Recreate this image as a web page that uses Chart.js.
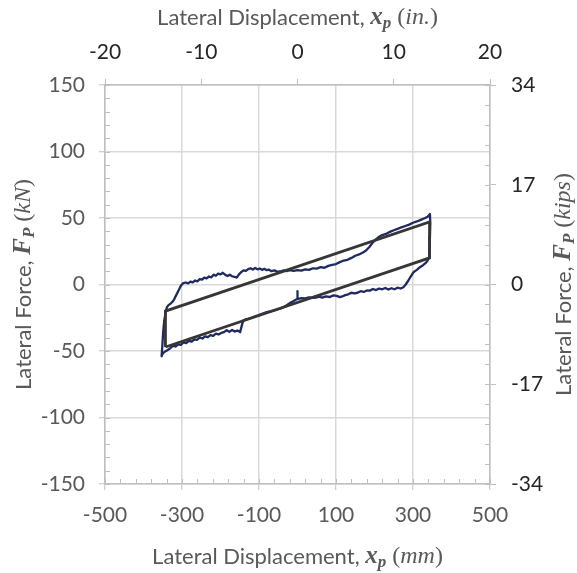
<!DOCTYPE html>
<html><head><meta charset="utf-8">
<script src="https://cdn.jsdelivr.net/npm/chart.js@4"></script>
<style>html,body{margin:0;padding:0;background:#fff}#wrap{width:577px;height:573px}</style>
</head><body><div id="wrap"><canvas id="c" width="577" height="573"></canvas></div>
<script>
// Test record (mm, kN), in path order
const hysX = [0,0,
 -10,-20,-30,-40,-50,-60,-70,-80,-90,-100,-110,-118,-126,-134,-140,-144,-149,-156,-163,-170,-177,-184,-191,-198,-205,-212,-219,-226,-233,-240,-247,-254,-261,-268,-275,-282,-289,-296,-303,-310,-317,-324,-331,-338,-345,-350,-353,
 -351,-349,-346,-342,-339,-335,-328,-322,-315,-308,-303,-297,-290,-284,-278,-272,-266,-260,-254,-248,-242,-236,-230,-224,-218,-212,-206,-200,-194,-188,-182,-176,-170,-164,-158,-152,-146,-140,-134,-128,-122,-116,-110,-104,-98,-92,-86,-80,-74,-68,-60,-52,-44,-36,-28,-20,-10,0,10,20,30,40,50,60,70,80,90,100,110,120,130,140,150,160,170,178,186,194,202,210,220,230,240,250,260,270,280,290,300,310,320,330,338,344,
 345,344,343,342,
 338,334,326,318,310,301,294,288,281,275,268,260,252,244,236,228,220,212,204,196,188,180,172,164,156,148,140,132,124,116,110,102,93,84,74,64,56,48,40,30,20,10,0];
const hysY = [-5,-10.7,
 -12.4,-14,-16,-17.6,-18.6,-19.4,-20.2,-20.8,-21.8,-23,-24,-24.8,-25.6,-26.2,-27,-30,-35.8,-34.6,-35.4,-34.2,-35.6,-34.4,-35.8,-36.4,-37.6,-37,-38.6,-38,-39.6,-39,-40.6,-40,-41.6,-41.2,-43,-42.4,-44,-43.6,-45.4,-45,-46.6,-46.2,-48,-49.4,-50.6,-52,-54,
 -46,-36,-27,-20,-17,-15.5,-14,-12,-8,-4,-1,1,1.5,0.8,2.2,1.6,3,2.4,4,3.6,5.2,4.6,6,5.4,7.4,6.6,8.2,7.6,8.8,7.4,6.4,7.4,6.2,5.8,5.2,7.6,9.4,10.6,10.2,11.6,12.2,11.2,12.4,11.4,12,11,11.8,10.8,11.2,10,10.6,9.6,9.8,10.6,10,10.8,10.2,10.8,10.4,11.4,11,12.2,12,13,12.6,14,14.8,15.4,16.8,18,18.6,20,21.6,22.6,24,25.6,28,31,33.5,35.5,37.2,38,39.6,40.8,41.8,43,44,45,46.4,47.4,48.6,49.8,51,53,
 46,36,27,20.5,
 18,16.5,14.5,13,11,9.2,6,3,0,-2,-3,-2.4,-3.6,-2.8,-3.8,-2.6,-3.6,-3,-4.2,-3.4,-4.6,-4.5,-5.6,-5,-6.2,-6.6,-6.2,-7.4,-8,-9,-9.5,-8.6,-8.2,-9.4,-9,-9.8,-9.2,-9.8,-10,-9.6,-10.4,-10.2,-11];
// Bilinear model loop (mm, kN)
const modelX = [-343,-343,343,343,-343];
const modelY = [-47,-20,47,20,-47];
// Tick labels
const mmTicks = [-500,-300,-100,100,300,500];
const inTicks = [-20,-10,0,10,20];
const kNTicks = [-150,-100,-50,0,50,100,150];
const kipTicks = [-34,-17,0,17,34];

const GRAY='#595959', AXIS='#bfbfbf', GRID='#d9d9d9';
const tickFont={family:'Lato',size:21};

function segsW(ctx,segs){let w=0;for(const s of segs){ctx.font=s.f;w+=ctx.measureText(s.t).width;}return w;}
function drawRich(ctx,segs,cx,cy){
  const w=segsW(ctx,segs);let x=cx-w/2;
  ctx.textBaseline='middle';ctx.textAlign='left';
  for(const s of segs){ctx.font=s.f;ctx.fillStyle=GRAY;ctx.fillText(s.t,x,cy+(s.dy||0));x+=ctx.measureText(s.t).width;}
}
const SANS='22px Lato', SER='"Liberation Serif"';
function dispTitle(unit){return [{t:'Lateral Displacement, ',f:SANS},{t:'x',f:'bold italic 25px '+SER},{t:'p',f:'bold italic 17px '+SER,dy:6},{t:' (',f:'24px '+SER},{t:unit,f:'italic 24px '+SER},{t:')',f:'24px '+SER}];}
function forceTitle(unit){return [{t:'Lateral Force, ',f:SANS},{t:'F',f:'bold italic 25px '+SER},{t:'P',f:'bold italic 17px '+SER,dy:6},{t:' (',f:'24px '+SER},{t:unit,f:'italic 24px '+SER},{t:')',f:'24px '+SER}];}

const titles={id:'titles',afterDraw(chart){
  const ctx=chart.ctx,a=chart.chartArea;const cx=(a.left+a.right)/2,cy=(a.top+a.bottom)/2;
  ctx.save();
  drawRich(ctx,dispTitle('in.'),cx,18);
  drawRich(ctx,dispTitle('mm'),cx,557);
  ctx.save();ctx.translate(24,cy);ctx.rotate(-Math.PI/2);drawRich(ctx,forceTitle('kN'),0,0);ctx.restore();
  ctx.save();ctx.translate(564,cy);ctx.rotate(-Math.PI/2);drawRich(ctx,forceTitle('kips'),0,0);ctx.restore();
  ctx.restore();
}};
const minor={id:'minor',afterDraw(chart){
  const ctx=chart.ctx,a=chart.chartArea,s=chart.scales,L=5;
  ctx.save();ctx.strokeStyle=AXIS;ctx.lineWidth=1;
  const run=(sc,min,max,n,fn)=>{for(let i=0;i<=n;i++){const v=min+(max-min)*i/n;fn(sc.getPixelForValue(v));}};
  run(s.y,-150,150,30,p=>{p=Math.round(p)+0.5;ctx.beginPath();ctx.moveTo(a.left,p);ctx.lineTo(a.left+L,p);ctx.stroke();});
  run(s.y2,-34,34,20,p=>{p=Math.round(p)+0.5;ctx.beginPath();ctx.moveTo(a.right,p);ctx.lineTo(a.right-L,p);ctx.stroke();});
  run(s.x,-500,500,25,p=>{p=Math.round(p)+0.5;ctx.beginPath();ctx.moveTo(p,a.bottom);ctx.lineTo(p,a.bottom-L);ctx.stroke();});
  ctx.restore();
}};

const toPts=(xs,ys)=>xs.map((x,i)=>({x,y:ys[i]}));
function setTicks(arr){return s=>{s.ticks=arr.map(v=>({value:v}));};}

new Chart(document.getElementById('c'),{
  type:'scatter',
  data:{datasets:[
    {label:'Model',data:toPts(modelX,modelY),showLine:true,borderColor:'#363636',borderWidth:2.8,pointRadius:0,order:0,xAxisID:'x',yAxisID:'y',borderJoinStyle:'miter'},
    {label:'Test',data:toPts(hysX,hysY),showLine:true,borderColor:'#1f2a63',borderWidth:2.3,pointRadius:0,order:1,xAxisID:'x',yAxisID:'y',borderJoinStyle:'round'}
  ]},
  options:{
    responsive:false,animation:false,devicePixelRatio:1,
    layout:{padding:0},
    plugins:{legend:{display:false},tooltip:{enabled:false}},
    scales:{
      x:{type:'linear',position:'bottom',min:-500,max:500,afterBuildTicks:setTicks(mmTicks),afterFit:s=>{s.height=89;},
        grid:{color:GRID,lineWidth:1.5,tickLength:6,tickColor:AXIS,tickWidth:1},border:{color:AXIS,width:1.5},
        ticks:{color:GRAY,font:tickFont,padding:13,maxRotation:0,autoSkip:false}},
      x2:{type:'linear',position:'top',min:-20,max:20,afterBuildTicks:setTicks(inTicks),afterFit:s=>{s.height=85;},
        grid:{drawOnChartArea:false,tickLength:6,tickColor:AXIS},border:{color:AXIS,width:1.5},
        ticks:{color:'#262626',font:tickFont,padding:14,maxRotation:0,autoSkip:false}},
      y:{type:'linear',position:'left',min:-150,max:150,afterBuildTicks:setTicks(kNTicks),afterFit:s=>{s.width=105;},
        grid:{color:GRID,lineWidth:1.5,tickLength:6,tickColor:AXIS,tickWidth:1},border:{color:AXIS,width:1.5},
        ticks:{color:GRAY,font:tickFont,padding:14,autoSkip:false}},
      y2:{type:'linear',position:'right',min:-34,max:34,afterBuildTicks:setTicks(kipTicks),afterFit:s=>{s.width=87;},
        grid:{drawOnChartArea:false,tickLength:6,tickColor:AXIS},border:{color:AXIS,width:1.5},
        ticks:{color:'#262626',font:tickFont,padding:15,autoSkip:false}}
    }
  },
  plugins:[minor,titles]
});
</script></body></html>
